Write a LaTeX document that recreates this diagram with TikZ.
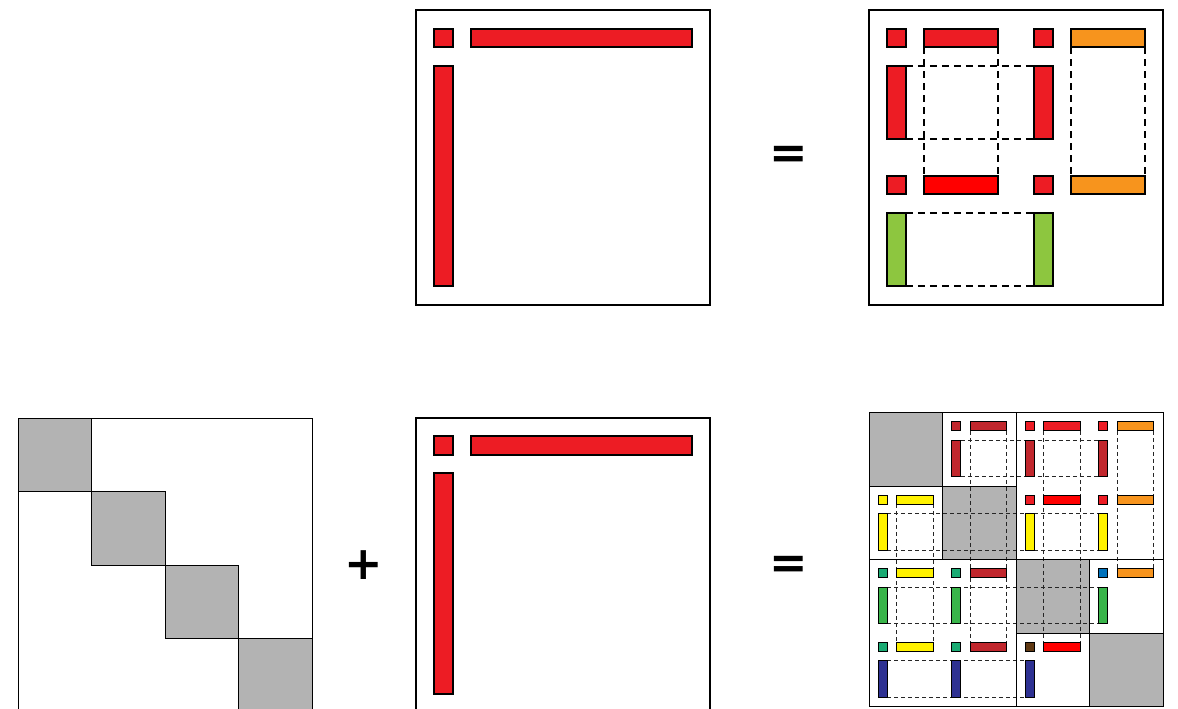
\documentclass[tikz,border=0pt]{standalone}
\usepackage{fontspec}
\usepackage{xcolor}
\usepackage{tikz}
\newfontfamily\opfont{DejaVu Sans}

\definecolor{pivred}{HTML}{ED1C24}
\definecolor{purered}{HTML}{FF0000}
\definecolor{darkred}{HTML}{C1272D}
\definecolor{orng}{HTML}{F7941D}
\definecolor{lgreen}{HTML}{8DC63F}
\definecolor{mgreen}{HTML}{39B54A}
\definecolor{yell}{HTML}{FFF200}
\definecolor{tealgr}{HTML}{1AAB73}
\definecolor{blu}{HTML}{0072BC}
\definecolor{navy}{HTML}{2E3192}
\definecolor{brwn}{HTML}{603913}
\definecolor{diaggray}{HTML}{B3B3B3}

% pivot, row and column of one block: x, y, block size, unit, colours
\newcommand{\arrowblk}[7]{%
    \draw[piece, fill=#5] ({#1+#4},{#2+#4}) rectangle ({#1+2*#4},{#2+2*#4});
    \draw[piece, fill=#6] ({#1+3*#4},{#2+#4}) rectangle ({#1+#3-#4},{#2+2*#4});
    \draw[piece, fill=#7] ({#1+#4},{#2+3*#4}) rectangle ({#1+2*#4},{#2+#3-#4});
}

\begin{document}
\begin{tikzpicture}[x=1pt, y=-1pt,
    frame/.style={draw, line width=2pt},
    thinframe/.style={draw, line width=1pt},
    piece/.style={draw, line width=1.8pt},
    guide/.style={dash pattern=on 7pt off 5pt, line width=1.8pt},
    diagblk/.style={draw, line width=1pt, fill=diaggray},
    op/.style={inner sep=0pt, font=\opfont\bfseries\fontsize{46}{46}\selectfont}]
    \useasboundingbox (0,0) rectangle (1178,709);

    % Top: arrow matrix
    \draw[frame] (416,10.5) rectangle (710,304.5);
    \arrowblk{416}{10.5}{294}{18.375}{pivred}{pivred}{pivred}

    \node[op] (eqtop) at (789,157) {=};

    % Top: result, 2x2 blocks
    \foreach \e in {3,7} {
        \draw[guide] ({869+\e*18.375},{10.5+2*18.375}) -- ++(0,{147-18.375});
        \draw[guide] ({1016+\e*18.375},{10.5+2*18.375}) -- ++(0,{147-18.375});
        \draw[guide] ({869+2*18.375},{10.5+\e*18.375}) -- ++({147-18.375},0);
        \draw[guide] ({869+2*18.375},{157.5+\e*18.375}) -- ++({147-18.375},0);
    }
    \arrowblk{869}{10.5}{147}{18.375}{pivred}{pivred}{pivred}
    \arrowblk{1016}{10.5}{147}{18.375}{pivred}{orng}{pivred}
    \arrowblk{869}{157.5}{147}{18.375}{pivred}{purered}{lgreen}
    \arrowblk{1016}{157.5}{147}{18.375}{pivred}{orng}{lgreen}
    \draw[frame] (869,10.5) rectangle (1163,304.5);

    % Bottom: block diagonal
    \draw[thinframe] (18,418) rectangle (312,712);
    \foreach \k in {0,...,3}
        \draw[diagblk] ({18+73.5*\k},{418+73.5*\k}) rectangle +(73.5,73.5);

    \node[op] (plus) at (363.5,565.5) {+};

    % Bottom: arrow matrix
    \draw[frame] (416,418) rectangle (710,712);
    \arrowblk{416}{418}{294}{18.375}{pivred}{pivred}{pivred}

    \node[op] (eqbot) at (789,567) {=};

    % Bottom: result, 4x4 blocks
    \begin{scope}[piece/.style={draw, line width=1.1pt},
        guide/.style={dash pattern=on 4pt off 3pt, line width=1.1pt, black!85}]
        \foreach \k in {0,...,3}
            \draw[diagblk] ({869+73.5*\k},{412.5+73.5*\k}) rectangle +(73.5,73.5);
        % column guides
        \foreach \c/\ra/\rb in {1/2/4, 2/1/4, 3/1/4, 4/1/3}
            \foreach \e in {3,7}
                \draw[guide] ({869+73.5*(\c-1)+\e*9.1875},{412.5+73.5*(\ra-1)+2*9.1875})
                    -- ++(0,{73.5*(\rb-\ra)-9.1875});
        % row guides
        \foreach \r/\ca/\cb in {1/2/4, 2/1/4, 3/1/4, 4/1/3}
            \foreach \e in {3,7}
                \draw[guide] ({869+73.5*(\ca-1)+2*9.1875},{412.5+73.5*(\r-1)+\e*9.1875})
                    -- ++({73.5*(\cb-\ca)-9.1875},0);
        \foreach \r/\c/\pc/\hc/\vc in {1/2/darkred/darkred/darkred, 1/3/pivred/pivred/darkred,
                1/4/pivred/orng/darkred, 2/1/yell/yell/yell, 2/3/pivred/purered/yell,
                2/4/pivred/orng/yell, 3/1/tealgr/yell/mgreen, 3/2/tealgr/darkred/mgreen,
                3/4/blu/orng/mgreen, 4/1/tealgr/yell/navy, 4/2/tealgr/darkred/navy,
                4/3/brwn/purered/navy}
            \arrowblk{869+73.5*(\c-1)}{412.5+73.5*(\r-1)}{73.5}{9.1875}{\pc}{\hc}{\vc}
        \draw[thinframe] (1016,412.5) -- (1016,706.5);
        \draw[thinframe] (869,559.5) -- (1163,559.5);
        \draw[thinframe] (869,412.5) rectangle (1163,706.5);
    \end{scope}
\end{tikzpicture}
\end{document}
